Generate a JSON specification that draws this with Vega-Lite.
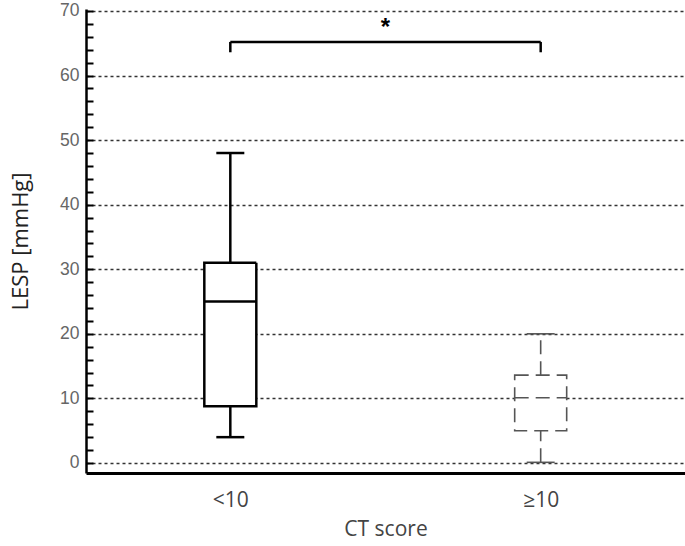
{
  "$schema": "https://vega.github.io/schema/vega-lite/v6.json",
  "width": 599,
  "height": 464,
  "autosize": "none",
  "padding": {"left": 86, "top": 9, "right": 0, "bottom": 73},
  "background": "white",
  "config": {"view": {"stroke": null}},
  "datasets": {
    "boxes": [
      {"group": "<10", "lo": 4, "q1": 8.8, "med": 25, "q3": 31, "hi": 48},
      {"group": "≥10", "lo": 0.1, "q1": 5, "med": 10.1, "q3": 13.6, "hi": 20}
    ],
    "bracket": [
      {"a": "<10", "b": "≥10", "top": 65.2, "bot": 63.6, "star": 67.4, "label": "*"}
    ]
  },
  "encoding": {
    "x": {
      "field": "group",
      "type": "nominal",
      "sort": ["<10", "≥10"],
      "scale": {"type": "point", "domain": ["<10", "≥10"], "padding": 0.465},
      "axis": {
        "title": "CT score",
        "labelAngle": 0,
        "ticks": false,
        "domainColor": "#000",
        "domainWidth": 3,
        "labelFont": "Open Sans",
        "labelFontSize": 21,
        "labelColor": "#444",
        "labelPadding": 16,
        "titleFont": "Open Sans",
        "titleFontSize": 21,
        "titleFontWeight": "normal",
        "titleColor": "#444",
        "titlePadding": 8
      }
    }
  },
  "layer": [
    {
      "data": {"name": "boxes"},
      "mark": {"type": "rule"},
      "encoding": {
        "y": {
          "field": "lo",
          "type": "quantitative",
          "scale": {"domain": [-1.55, 70.3], "nice": false, "zero": false},
          "axis": {
            "title": "LESP [mmHg]",
            "values": [0,2,4,6,8,10,12,14,16,18,20,22,24,26,28,30,32,34,36,38,40,42,44,46,48,50,52,54,56,58,60,62,64,66,68,70],
            "tickCount": 100,
            "labelOverlap": false,
            "labelExpr": "datum.value % 10 === 0 ? datum.label : ''",
            "grid": true,
            "gridDash": [3, 3],
            "gridColor": "#333",
            "gridWidth": 1.3,
            "gridOpacity": {"condition": {"test": "datum.value % 10 === 0", "value": 1}, "value": 0},
            "tickSize": -7,
            "tickWidth": 2,
            "tickColor": "#000",
            "domainColor": "#000",
            "domainWidth": 2.5,
            "labelFont": "Arial",
            "labelFontSize": 17.5,
            "labelColor": "#666",
            "labelPadding": 14,
            "titleFont": "Open Sans",
            "titleFontSize": 22,
            "titleFontWeight": "normal",
            "titleColor": "#222",
            "titleX": -54
          }
        },
        "y2": {"field": "q1"},
        "stroke": {"field": "group", "type": "nominal", "scale": {"domain": ["<10", "≥10"], "range": ["#000000", "#555555"]}, "legend": null},
        "strokeWidth": {"field": "group", "type": "nominal", "scale": {"domain": ["<10", "≥10"], "range": [2.5, 1.6]}, "legend": null},
        "strokeDash": {"field": "group", "type": "nominal", "scale": {"domain": ["<10", "≥10"], "range": [[1, 0], [14, 7]]}, "legend": null}
      }
    },
    {
      "data": {"name": "boxes"},
      "mark": {"type": "rule"},
      "encoding": {
        "y": {"field": "q3", "type": "quantitative"},
        "y2": {"field": "hi"},
        "stroke": {"field": "group", "type": "nominal", "legend": null},
        "strokeWidth": {"field": "group", "type": "nominal", "legend": null},
        "strokeDash": {"field": "group", "type": "nominal", "legend": null}
      }
    },
    {
      "data": {"name": "boxes"},
      "mark": {"type": "bar", "size": 52, "fill": "white"},
      "encoding": {
        "y": {"field": "q1", "type": "quantitative"},
        "y2": {"field": "q3"},
        "stroke": {"field": "group", "type": "nominal", "legend": null},
        "strokeWidth": {"field": "group", "type": "nominal", "legend": null},
        "strokeDash": {"field": "group", "type": "nominal", "legend": null}
      }
    },
    {
      "data": {"name": "boxes"},
      "mark": {"type": "rule", "xOffset": -26, "x2Offset": 26},
      "encoding": {
        "x2": {"field": "group"},
        "y": {"field": "med", "type": "quantitative"},
        "stroke": {"field": "group", "type": "nominal", "legend": null},
        "strokeWidth": {"field": "group", "type": "nominal", "legend": null},
        "strokeDash": {"field": "group", "type": "nominal", "legend": null}
      }
    },
    {
      "data": {"name": "boxes"},
      "mark": {"type": "rule", "xOffset": -14, "x2Offset": 14},
      "encoding": {
        "x2": {"field": "group"},
        "y": {"field": "lo", "type": "quantitative"},
        "stroke": {"field": "group", "type": "nominal", "legend": null},
        "strokeWidth": {"field": "group", "type": "nominal", "legend": null}
      }
    },
    {
      "data": {"name": "boxes"},
      "mark": {"type": "rule", "xOffset": -14, "x2Offset": 14},
      "encoding": {
        "x2": {"field": "group"},
        "y": {"field": "hi", "type": "quantitative"},
        "stroke": {"field": "group", "type": "nominal", "legend": null},
        "strokeWidth": {"field": "group", "type": "nominal", "legend": null}
      }
    },
    {
      "data": {"name": "bracket"},
      "mark": {"type": "rule", "color": "#000", "strokeWidth": 2.5},
      "encoding": {
        "x": {"field": "a", "type": "nominal"},
        "x2": {"field": "b"},
        "y": {"field": "top", "type": "quantitative"}
      }
    },
    {
      "data": {"name": "bracket"},
      "mark": {"type": "rule", "color": "#000", "strokeWidth": 2.5},
      "encoding": {
        "x": {"field": "a", "type": "nominal"},
        "y": {"field": "bot", "type": "quantitative"},
        "y2": {"field": "top"}
      }
    },
    {
      "data": {"name": "bracket"},
      "mark": {"type": "rule", "color": "#000", "strokeWidth": 2.5},
      "encoding": {
        "x": {"field": "b", "type": "nominal"},
        "y": {"field": "bot", "type": "quantitative"},
        "y2": {"field": "top"}
      }
    },
    {
      "data": {"name": "bracket"},
      "mark": {"type": "text", "dx": 155, "fontSize": 24, "fontWeight": "bold", "font": "Arial", "color": "#000", "baseline": "middle"},
      "encoding": {
        "x": {"field": "a", "type": "nominal"},
        "y": {"field": "star", "type": "quantitative"},
        "text": {"field": "label"}
      }
    }
  ]
}
